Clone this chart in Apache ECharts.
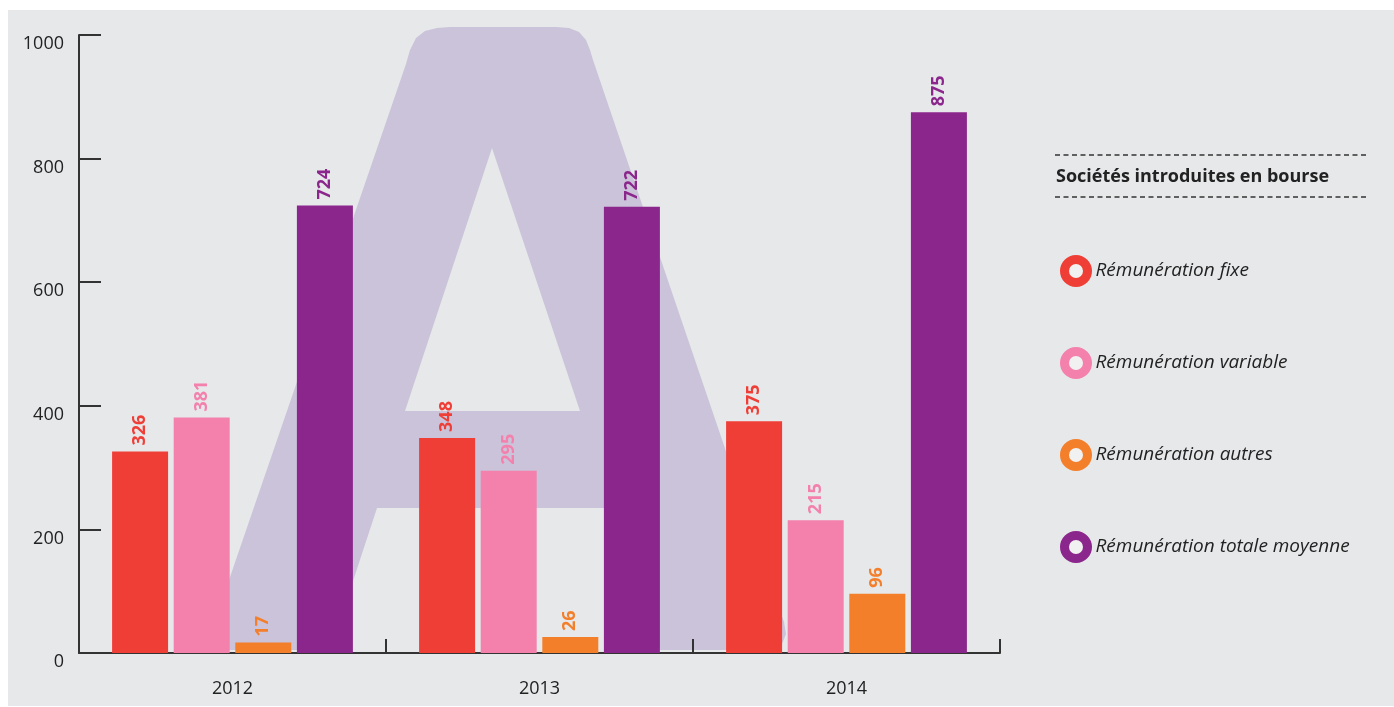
<!DOCTYPE html>
<html>
<head>
<meta charset="utf-8">
<script src="https://cdn.jsdelivr.net/npm/echarts@6/dist/echarts.min.js"></script>
<style>
html,body{margin:0;padding:0;background:#ffffff;}
#chart{width:1394px;height:707px;}
</style>
</head>
<body>
<div id="chart"></div>
<script>
var categories = ['2012', '2013', '2014'];
var seriesNames = ['Rémunération fixe', 'Rémunération variable', 'Rémunération autres', 'Rémunération totale moyenne'];
var fixe = [326, 348, 375];
var variable = [381, 295, 215];
var autres = [17, 26, 96];
var totale = [724, 722, 875];
var yTicks = [0, 200, 400, 600, 800, 1000];
var legendTitle = 'Sociétés introduites en bourse';

var colors = ['#ef3e36', '#f381ac', '#f47f2b', '#8b268c'];
var values = [fixe, variable, autres, totale];
var FONT = '"Open Sans", sans-serif';
var BG = '#e6e8ea';
var APURPLE = '#cbc3d9';

var chart = echarts.init(document.getElementById('chart'));

var series = seriesNames.map(function (name, i) {
  return {
    name: name,
    type: 'bar',
    data: values[i],
    barWidth: 56,
    barGap: '10%',
    itemStyle: { color: colors[i] },
    label: {
      show: true,
      position: 'top',
      rotate: 90,
      align: 'left',
      verticalAlign: 'middle',
      distance: 6,
      color: colors[i],
      fontFamily: FONT,
      fontWeight: 'bold',
      fontSize: 18
    },
    z: 5
  };
});

var aOuter = [[205, 650], [406, 64], [410, 50], [416, 38], [425, 31], [437, 28], [450, 27],
  [556, 27], [569, 28], [579, 32], [586, 40], [590, 50], [593, 60],
  [784, 622], [786, 634], [782, 644], [772, 650]];

var option = {
  backgroundColor: '#ffffff',
  animation: false,
  graphic: [
    { type: 'rect', z: -100, shape: { x: 8, y: 10, width: 1386, height: 696 }, style: { fill: BG } },
    { type: 'polygon', z: -90, shape: { points: aOuter }, style: { fill: APURPLE } },
    { type: 'polygon', z: -80, shape: { points: [[492, 148], [405, 411], [580, 411]] }, style: { fill: BG } },
    { type: 'polygon', z: -80, shape: { points: [[330, 651], [377, 508], [612, 508], [660, 651]] }, style: { fill: BG } },
    { type: 'line', z: 10, shape: { x1: 1055, y1: 155, x2: 1368, y2: 155 }, style: { stroke: '#333', lineWidth: 1.3, lineDash: [5, 3.5] } },
    { type: 'line', z: 10, shape: { x1: 1055, y1: 197, x2: 1368, y2: 197 }, style: { stroke: '#333', lineWidth: 1.3, lineDash: [5, 3.5] } },
    { type: 'text', z: 10, x: 1056, y: 177,
      style: { text: legendTitle, fill: '#222', font: 'bold 18px ' + FONT, verticalAlign: 'middle' } }
  ],
  grid: { left: 79, right: 394, top: 35, bottom: 54, containLabel: false },
  legend: {
    orient: 'vertical',
    left: 1060,
    top: 255,
    padding: 0,
    itemWidth: 23,
    itemHeight: 23,
    itemGap: 60,
    icon: 'circle',
    data: seriesNames.map(function (n, i) {
      return { name: n, itemStyle: { color: '#f1f1f1', borderColor: colors[i], borderWidth: 9 } };
    }),
    textStyle: { fontFamily: FONT, fontSize: 19, fontStyle: 'italic', color: '#222', padding: [0, 0, 0, 3] }
  },
  xAxis: {
    type: 'category',
    data: categories,
    axisLine: { lineStyle: { color: '#333', width: 2 } },
    axisTick: { show: true, inside: true, length: 14, lineStyle: { color: '#333', width: 2 } },
    axisLabel: { color: '#222', fontFamily: FONT, fontSize: 18, margin: 27 },
    splitLine: { show: false }
  },
  yAxis: {
    type: 'value',
    min: yTicks[0],
    max: yTicks[yTicks.length - 1],
    interval: yTicks[1] - yTicks[0],
    axisLine: { show: true, lineStyle: { color: '#333', width: 2 } },
    axisTick: { show: true, inside: true, length: 22, lineStyle: { color: '#333', width: 2 } },
    axisLabel: { color: '#222', fontFamily: FONT, fontSize: 18, margin: 15, verticalAlign: 'top',
      formatter: function (v) { return String(v); } },
    splitLine: { show: false }
  },
  series: series
};
chart.setOption(option);
</script>
</body>
</html>
